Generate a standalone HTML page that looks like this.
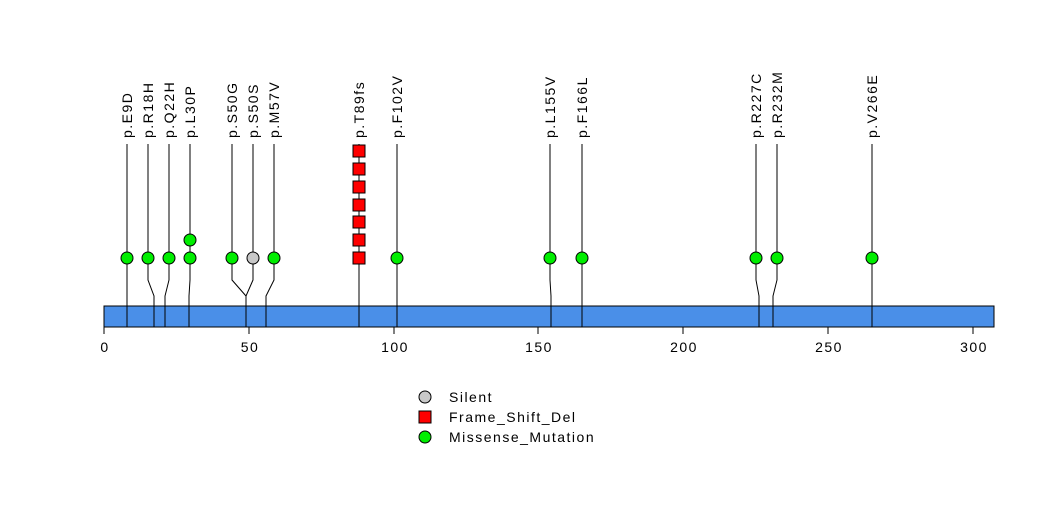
<!DOCTYPE html>
<html><head><meta charset="utf-8"><style>body{margin:0;background:#fff}svg{display:block}</style></head><body>
<svg width="1047" height="524" viewBox="0 0 1047 524" xmlns="http://www.w3.org/2000/svg" font-family="Liberation Sans, sans-serif" font-size="14" letter-spacing="1.5">
<rect x="104" y="306" width="890" height="21" fill="#4a8fe8" stroke="#000" stroke-width="1"/>
<g stroke="#000" stroke-width="1" fill="none">
<polyline points="127,144 127,280 127,296 127,327"/>
<polyline points="148,144 148,280 154,296 154,327"/>
<polyline points="169,144 169,280 165,296 165,327"/>
<polyline points="190,144 190,280 189,296 189,327"/>
<polyline points="232,144 232,280 246,296 246,327"/>
<polyline points="253,144 253,280 246,296 246,327"/>
<polyline points="274,144 274,280 266,296 266,327"/>
<polyline points="359,144 359,327"/>
<polyline points="397,144 397,327"/>
<polyline points="550,144 550,280 551,296 551,327"/>
<polyline points="582,144 582,327"/>
<polyline points="756,144 756,280 759,296 759,327"/>
<polyline points="777,144 777,280 773,296 773,327"/>
<polyline points="872,144 872,327"/>
<line x1="104" y1="327" x2="973" y2="327"/>
<line x1="104" y1="327" x2="104" y2="334"/><line x1="249" y1="327" x2="249" y2="334"/><line x1="394" y1="327" x2="394" y2="334"/><line x1="538" y1="327" x2="538" y2="334"/><line x1="683" y1="327" x2="683" y2="334"/><line x1="828" y1="327" x2="828" y2="334"/><line x1="973" y1="327" x2="973" y2="334"/>
</g>
<g stroke="#000" stroke-width="1" fill="#00ee00">
<circle cx="127" cy="258" r="6"/><circle cx="148" cy="258" r="6"/><circle cx="169" cy="258" r="6"/><circle cx="190" cy="258" r="6"/><circle cx="190" cy="240" r="6"/><circle cx="232" cy="258" r="6"/><circle cx="253" cy="258" r="6" fill="#c8c8c8"/><circle cx="274" cy="258" r="6"/><circle cx="397" cy="258" r="6"/><circle cx="550" cy="258" r="6"/><circle cx="582" cy="258" r="6"/><circle cx="756" cy="258" r="6"/><circle cx="777" cy="258" r="6"/><circle cx="872" cy="258" r="6"/>
</g>
<g stroke="#000" stroke-width="1" fill="#ff0000">
<rect x="353" y="145" width="12" height="12"/><rect x="353" y="163" width="12" height="12"/><rect x="353" y="181" width="12" height="12"/><rect x="353" y="199" width="12" height="12"/><rect x="353" y="216" width="12" height="12"/><rect x="353" y="234" width="12" height="12"/><rect x="353" y="252" width="12" height="12"/>
</g>
<g fill="#000">
<text transform="translate(132,138) rotate(-90)">p.E9D</text>
<text transform="translate(153,138) rotate(-90)">p.R18H</text>
<text transform="translate(174,138) rotate(-90)">p.Q22H</text>
<text transform="translate(195,138) rotate(-90)">p.L30P</text>
<text transform="translate(237,138) rotate(-90)">p.S50G</text>
<text transform="translate(258,138) rotate(-90)">p.S50S</text>
<text transform="translate(279,138) rotate(-90)">p.M57V</text>
<text transform="translate(364,138) rotate(-90)">p.T89fs</text>
<text transform="translate(402,138) rotate(-90)">p.F102V</text>
<text transform="translate(555,138) rotate(-90)">p.L155V</text>
<text transform="translate(587,138) rotate(-90)">p.F166L</text>
<text transform="translate(761,138) rotate(-90)">p.R227C</text>
<text transform="translate(782,138) rotate(-90)">p.R232M</text>
<text transform="translate(877,138) rotate(-90)">p.V266E</text>
</g>
<g text-anchor="middle" fill="#000">
<text x="105" y="352">0</text><text x="250" y="352">50</text><text x="395" y="352">100</text><text x="539" y="352">150</text><text x="684" y="352">200</text><text x="829" y="352">250</text><text x="974" y="352">300</text>
</g>
<circle cx="425" cy="397" r="6" fill="#c8c8c8" stroke="#000"/>
<rect x="419" y="411" width="12" height="12" fill="#ff0000" stroke="#000"/>
<circle cx="425" cy="437" r="6" fill="#00ee00" stroke="#000"/>
<text x="449" y="402">Silent</text>
<text x="449" y="422">Frame_Shift_Del</text>
<text x="449" y="442">Missense_Mutation</text>
</svg>
</body></html>
